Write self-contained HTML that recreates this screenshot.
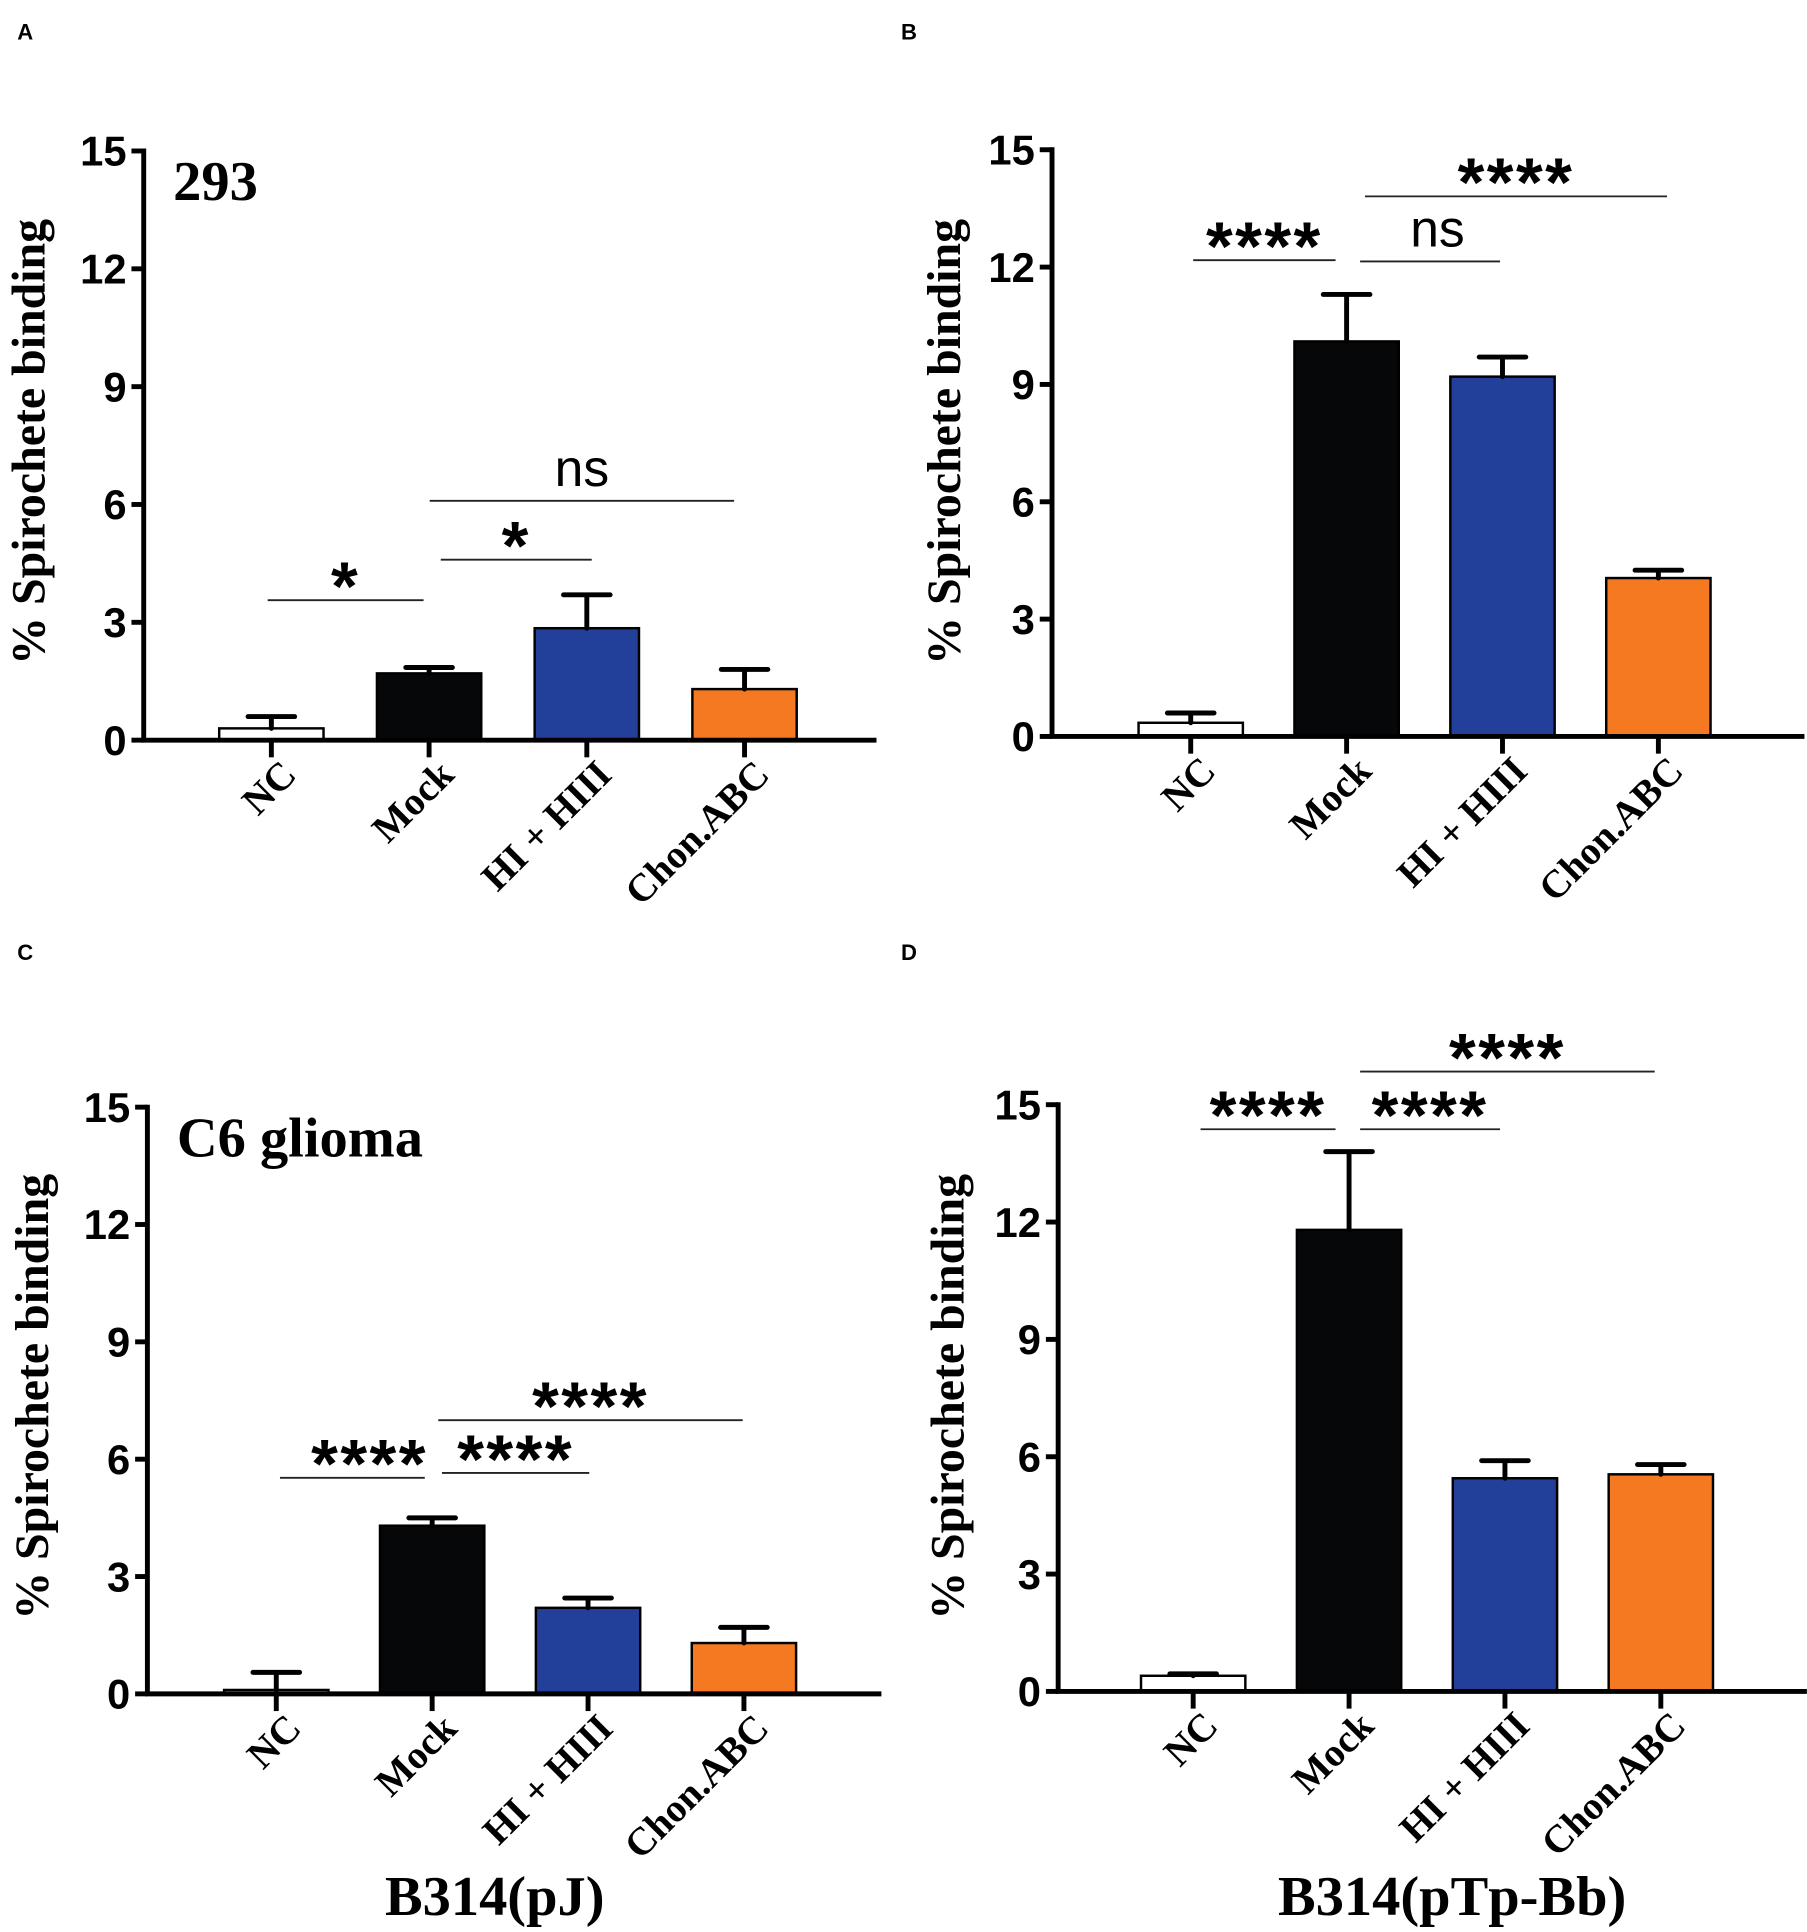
<!DOCTYPE html>
<html><head><meta charset="utf-8"><style>
html,body{margin:0;padding:0;background:#fff;}
svg{display:block;}
.tick{font-family:"Liberation Sans",sans-serif;font-weight:bold;font-size:34px;fill:#000;}
.ytitle,.cat,.xtitle,.inset{font-family:"Liberation Serif",serif;font-weight:bold;fill:#000;}
.sig{font-family:"Liberation Sans",sans-serif;fill:#000;}
.plabel{font-family:"Liberation Sans",sans-serif;font-weight:bold;font-size:18px;fill:#000;}
</style></head><body>
<svg id="fig" width="1807" height="1932" viewBox="0 0 1472 1574" xmlns="http://www.w3.org/2000/svg"></svg>
<script>
const categories = ["NC", "Mock", "HI + HIII", "Chon.ABC"];
const colors = ["#ffffff", "#050708", "#22409a", "#f47920"];
const yTicks = [0, 3, 6, 9, 12, 15];
const valuesA = [0.3, 1.7, 2.85, 1.3];
const errA = [0.6, 1.85, 3.7, 1.8];
const valuesB = [0.35, 10.1, 9.2, 4.05];
const errB = [0.6, 11.3, 9.7, 4.25];
const valuesC = [0.1, 4.3, 2.2, 1.3];
const errC = [0.55, 4.5, 2.45, 1.7];
const valuesD = [0.4, 11.8, 5.45, 5.55];
const errD = [0.45, 13.8, 5.9, 5.8];

const NS = "http://www.w3.org/2000/svg";
const svg = document.getElementById("fig");
function mk(tag, attrs, parent, text) {
  const e = document.createElementNS(NS, tag);
  for (const k in attrs) e.setAttribute(k, attrs[k]);
  if (text !== undefined) e.textContent = text;
  (parent || svg).appendChild(e);
  return e;
}

function panel(cfg, values, errs) {
  const g = mk("g", {});
  
  
  const y = v => cfg.y0 - (v / 15) * (cfg.y0 - cfg.y15);
  const x = i => cfg.c0 + i * cfg.step;
  const bw = 85;
  values.forEach((v, i) => {
    const r = mk("rect", {x: x(i) - bw / 2, y: y(v), width: bw, height: cfg.y0 - y(v), fill: colors[i], stroke: "#000", "stroke-width": 2}, g);
    
    
    const e = mk("path", {d: `M${x(i)},${y(v)} V${y(errs[i])} M${x(i) - 19},${y(errs[i])} H${x(i) + 19}`, stroke: "#000", "stroke-width": 4, "stroke-linecap": "round", fill: "none"}, g);
    
    
  });
  const ax = mk("path", {d: `M${cfg.ax},${cfg.y15 - 2} V${cfg.y0} H${cfg.xEnd}`, stroke: "#000", "stroke-width": 4, fill: "none"}, g);
  
  
  yTicks.forEach(t => {
    mk("line", {x1: cfg.ax - 10, x2: cfg.ax, y1: y(t), y2: y(t), stroke: "#000", "stroke-width": 4}, g);
    const tl = mk("text", {x: cfg.ax - 14, y: y(t) + 12, "text-anchor": "end", class: "tick"}, g, String(t));
    
    
  });
  categories.forEach((c, i) => {
    mk("line", {x1: x(i), x2: x(i), y1: cfg.y0, y2: cfg.y0 + 14, stroke: "#000", "stroke-width": 4}, g);
    const cx = x(i) + 6, cy = cfg.y0 + 14;
    const cl = mk("text", {x: cx, y: cy, "text-anchor": "end", class: "cat", "font-size": 32, transform: `rotate(-45 ${cx} ${cy})`, dy: "0.7em"}, g, c);
    
    
  });
  const yt = mk("text", {x: cfg.ytx, y: cfg.yty, "text-anchor": "middle", class: "ytitle", "font-size": 39, transform: `rotate(-90 ${cfg.ytx} ${cfg.yty})`}, g, "% Spirochete binding");
  
  
  cfg.sig.forEach(s => {
    const l = mk("line", {x1: s[0], x2: s[1], y1: s[2], y2: s[2], stroke: "#222", "stroke-width": 1.5}, g);
    
    
    const isNs = s[3] === "ns";
    const t = mk("text", {x: (s[0] + s[1]) / 2 + (s[4] || 0), y: isNs ? s[2] - 12 : s[2] + 8, "text-anchor": "middle", class: "sig", "font-size": isNs ? 42 : 56, "font-weight": isNs ? "normal" : "bold", "letter-spacing": isNs ? 0 : 2}, g, s[3]);
    
    
  });
  const pl = mk("text", {x: cfg.lx, y: cfg.ly, class: "plabel"}, g, cfg.id);
  
  
  if (cfg.inset) {
    const it = mk("text", {x: cfg.ax + 24, y: cfg.y15 + 40, class: "inset", "font-size": 46}, g, cfg.inset);
    
    
  }
  if (cfg.xtitle) {
    const xt = mk("text", {x: cfg.xtx, y: 1560, "text-anchor": "middle", class: "xtitle", "font-size": 46}, g, cfg.xtitle);
    
    
  }
}

panel({id: "A", ax: 117, y0: 603, y15: 123, c0: 221, step: 128.5, xEnd: 714, ytx: 36, yty: 360, lx: 14, ly: 32, inset: "293",
  sig: [[218, 345, 489, "*"], [359, 482, 456, "*"], [350, 598, 408, "ns"]]}, valuesA, errA);
panel({id: "B", ax: 857, y0: 600, y15: 122, c0: 970, step: 127, xEnd: 1470, ytx: 782, yty: 360, lx: 734, ly: 32,
  sig: [[972, 1088, 212, "****"], [1108, 1222, 213, "ns", 6], [1112, 1358, 160, "****"]]}, valuesB, errB);
panel({id: "C", ax: 120, y0: 1380, y15: 902, c0: 225, step: 127, xEnd: 718, ytx: 39, yty: 1138, lx: 14, ly: 782, inset: "C6 glioma", xtitle: "B314(pJ)", xtx: 403,
  sig: [[228, 346, 1204, "****", 14], [360, 480, 1200, "****"], [357, 605, 1157, "****"]]}, valuesC, errC);
panel({id: "D", ax: 862, y0: 1378, y15: 900, c0: 972, step: 127, xEnd: 1472, ytx: 785, yty: 1138, lx: 734, ly: 782, xtitle: "B314(pTp-Bb)", xtx: 1183,
  sig: [[978, 1088, 920, "****"], [1108, 1222, 920, "****"], [1108, 1348, 873, "****"]]}, valuesD, errD);
</script>
</body></html>
